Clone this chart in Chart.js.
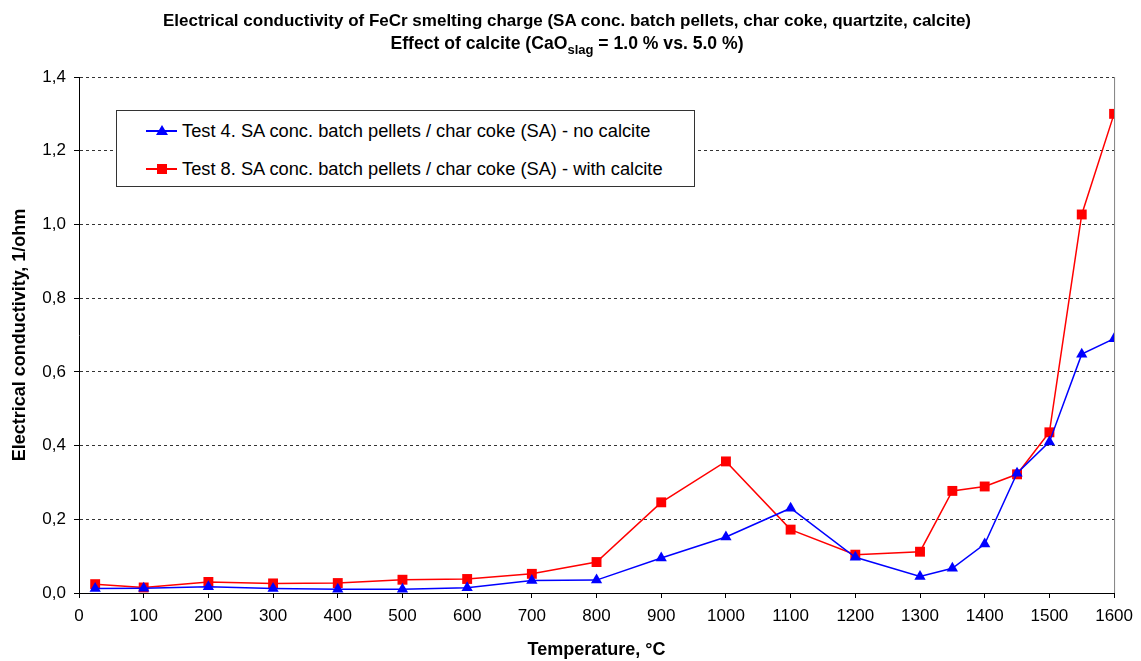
<!DOCTYPE html>
<html>
<head>
<meta charset="utf-8">
<script src="https://cdn.jsdelivr.net/npm/chart.js@4.4.1/dist/chart.umd.min.js"></script>
<style>
  html, body { margin: 0; padding: 0; background: #fff; }
  #wrap { position: relative; width: 1141px; height: 661px; font-family: "Liberation Sans", Arial, sans-serif; }
  #chart { position: absolute; left: 0; top: 0; }
  .title { position: absolute; left: 0; width: 1134px; text-align: center; font-weight: bold; font-size: 17px; line-height: 20px; color: #000; white-space: nowrap; }
  .title sub { font-size: 13px; vertical-align: -5px; line-height: 0; }
  #legend { position: absolute; left: 116px; top: 110px; width: 579px; height: 77px; border: 1px solid #333; background: #fff; box-sizing: border-box; }
  .row { position: absolute; left: 29px; height: 20px; font-size: 18.3px; line-height: 20px; white-space: nowrap; color: #000; }
  .sample { display: inline-block; position: relative; width: 31px; height: 20px; vertical-align: top; margin-right: 5px; }
  .sample .ln { position: absolute; left: 0; right: 0; top: 9px; height: 2px; }
  .sample .tri { position: absolute; left: 9.5px; top: 4px; width: 0; height: 0; border-left: 6px solid transparent; border-right: 6px solid transparent; border-bottom: 10px solid #00f; }
  .sample .sq { position: absolute; left: 10.5px; top: 5px; width: 10px; height: 10px; background: #f00; }
</style>
</head>
<body>
<div id="wrap">
  <canvas id="chart" width="1141" height="661"></canvas>
  <div class="title" style="top:11px">Electrical conductivity of FeCr smelting charge (SA conc. batch pellets, char coke, quartzite, calcite)</div>
  <div class="title" style="top:33px; font-size:17.6px">Effect of calcite (CaO<sub>slag</sub> = 1.0 % vs. 5.0 %)</div>
  <div id="legend">
    <div class="row" style="top:10px"><span class="sample"><span class="ln" style="background:#00f"></span><span class="tri"></span></span><span id="lab1"></span></div>
    <div class="row" style="top:48px"><span class="sample"><span class="ln" style="background:#f00"></span><span class="sq"></span></span><span id="lab2"></span></div>
  </div>
</div>
<script>
"use strict";

const TEMPERATURES = [25, 100, 200, 300, 400, 500, 600, 700, 800, 900, 1000, 1100, 1200, 1300, 1350, 1400, 1450, 1500, 1550, 1600];
const TEST4_NO_CALCITE = [0.012, 0.013, 0.017, 0.012, 0.010, 0.010, 0.014, 0.034, 0.035, 0.095, 0.152, 0.230, 0.097, 0.045, 0.067, 0.133, 0.325, 0.410, 0.648, 0.690];
const TEST8_WITH_CALCITE = [0.024, 0.015, 0.030, 0.026, 0.027, 0.036, 0.038, 0.052, 0.084, 0.246, 0.357, 0.172, 0.104, 0.112, 0.277, 0.289, 0.322, 0.436, 1.027, 1.300];
const SERIES_LABELS = [
  "Test 4. SA conc. batch pellets / char coke (SA) - no calcite",
  "Test 8. SA conc. batch pellets / char coke (SA) - with calcite",
];
const X_TITLE = "Temperature, °C";
const Y_TITLE = "Electrical conductivity, 1/ohm";

const COLORS = {
  blue: "#0000ff",
  red: "#ff0000",
  grid: "#333333",
  axis: "#000000",
  frame: "#808080",
};

const FONT = "'Liberation Sans', Arial, sans-serif";

document.getElementById("lab1").textContent = SERIES_LABELS[0];
document.getElementById("lab2").textContent = SERIES_LABELS[1];

function toPoints(values) {
  return TEMPERATURES.map((t, i) => ({ x: t, y: values[i] }));
}

function commaTick(v) {
  return Number(v).toFixed(1).replace(".", ",");
}

// grey frame line on the right edge of the plot, like the Excel original
const rightFrame = {
  id: "rightFrame",
  beforeDatasetsDraw(chart) {
    const { ctx, chartArea } = chart;
    ctx.save();
    ctx.strokeStyle = COLORS.frame;
    ctx.lineWidth = 1;
    ctx.beginPath();
    ctx.moveTo(chartArea.right + 0.5, chartArea.top);
    ctx.lineTo(chartArea.right + 0.5, chartArea.bottom);
    ctx.stroke();
    ctx.restore();
  },
};

new Chart(document.getElementById("chart"), {
  type: "line",
  data: {
    datasets: [
      {
        label: SERIES_LABELS[0],
        data: toPoints(TEST4_NO_CALCITE),
        borderColor: COLORS.blue,
        backgroundColor: COLORS.blue,
        borderWidth: 1.5,
        pointStyle: "triangle",
        pointRadius: 6.5,
        pointBorderWidth: 0,
        tension: 0,
      },
      {
        label: SERIES_LABELS[1],
        data: toPoints(TEST8_WITH_CALCITE),
        borderColor: COLORS.red,
        backgroundColor: COLORS.red,
        borderWidth: 1.5,
        pointStyle: "rect",
        pointRadius: 7,
        pointBorderWidth: 0,
        tension: 0,
      },
    ],
  },
  options: {
    responsive: false,
    animation: false,
    devicePixelRatio: 1,
    layout: { padding: { top: 77, right: 23, left: 0, bottom: 0 } },
    plugins: {
      legend: { display: false },
      tooltip: { enabled: false },
    },
    scales: {
      x: {
        type: "linear",
        min: 0,
        max: 1600,
        afterFit: s => { s.height = 68; },
        ticks: { stepSize: 100, color: "#000", font: { family: FONT, size: 17 }, padding: 8, maxRotation: 0, callback: v => String(v) },
        grid: { drawOnChartArea: false, drawTicks: true, tickLength: 5, color: COLORS.axis },
        border: { color: COLORS.axis, width: 1 },
        title: { display: true, text: X_TITLE, color: "#000", font: { family: FONT, size: 18, weight: "bold" }, padding: { top: 0, bottom: 0 } },
      },
      y: {
        min: 0,
        max: 1.4,
        afterFit: s => { s.width = 79; },
        ticks: { stepSize: 0.2, color: "#000", font: { family: FONT, size: 17 }, padding: 8, callback: commaTick },
        grid: { color: COLORS.grid, tickColor: COLORS.axis, tickLength: 5 },
        border: { color: COLORS.axis, width: 1, dash: [3, 3] },
        title: { display: true, text: Y_TITLE, color: "#000", font: { family: FONT, size: 18, weight: "bold" }, padding: { top: 9, bottom: 0 } },
      },
    },
  },
  plugins: [rightFrame],
});
</script>
</body>
</html>
